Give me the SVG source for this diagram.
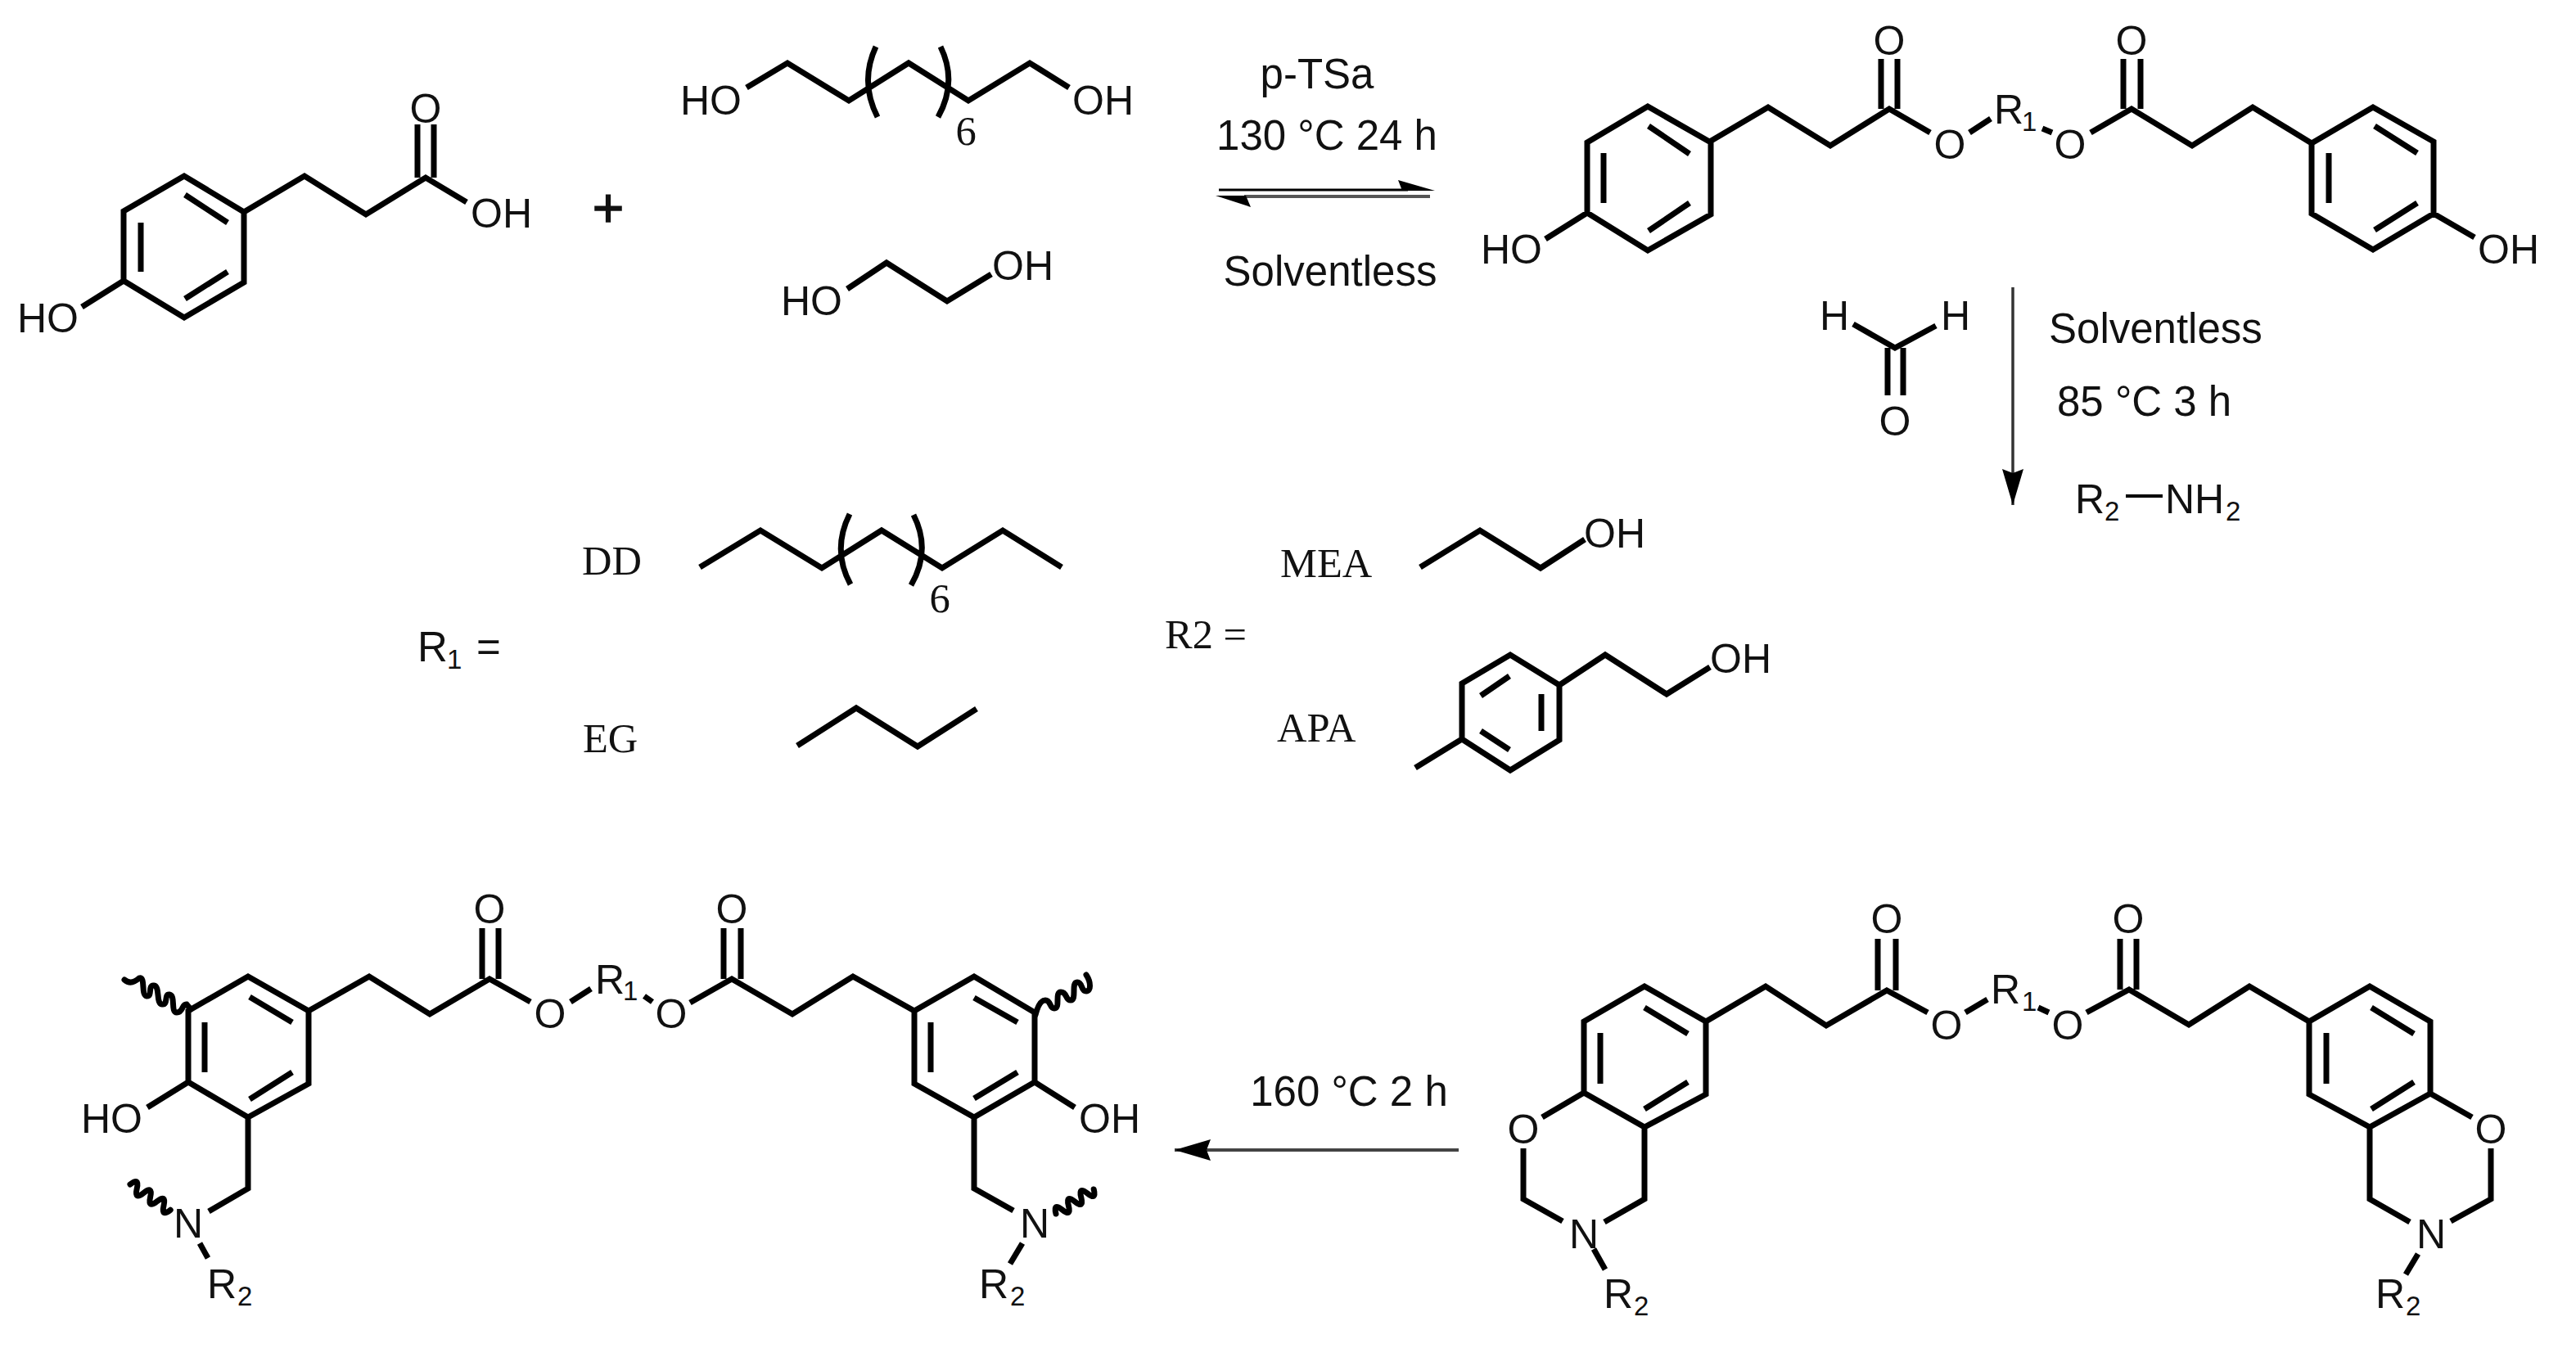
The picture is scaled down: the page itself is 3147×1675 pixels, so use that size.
<svg xmlns="http://www.w3.org/2000/svg" width="3147" height="1675" viewBox="0 0 3147 1675">
<style>
.b{fill:none;stroke:#000;stroke-width:7;stroke-linejoin:miter;stroke-linecap:butt}
.w{fill:none;stroke:#000;stroke-width:7;stroke-linecap:round}
.a{font-family:"Liberation Sans",Arial,sans-serif;font-size:50px;fill:#111}
.s{font-family:"Liberation Sans",Arial,sans-serif;font-size:33px;fill:#111}
.c{text-anchor:middle}
.l{font-family:"Liberation Sans",Arial,sans-serif;font-size:51px;fill:#111}
.t{font-family:"Liberation Serif","Times New Roman",serif;font-size:50.5px;fill:#111}
.ar{fill:none;stroke:#333;stroke-width:3.5}
</style>
<defs>
<marker id="head" markerUnits="userSpaceOnUse" markerWidth="46" markerHeight="28" refX="44" refY="14" orient="auto"><path d="M44 14L0 1L5 14L0 27Z" fill="#000"/></marker>
</defs>
<rect width="3147" height="1675" fill="#fff"/>

<g id="acid">
<path class="b" d="M225 215L151 258V343L225 388L298 345V259ZM172 272V332M226 238L278 272M226 365L278 332M298 259L372 215L447 262L520 217L570 247M510 217V152M530 217V152M151 343L100 375"/>
<text class="a c" x="520" y="150">O</text>
<text class="a" x="575" y="278">OH</text>
<text class="a" x="21" y="406">HO</text>
</g>
<text id="plus" x="743" y="277" class="l c" style="font-size:66px;stroke:#111;stroke-width:1.5">+</text>

<g id="dodecanediol">
<path class="b" d="M912 107L962 77L1037 123L1110 77L1183 123L1258 77L1306 107M1070 57Q1050 100 1072 143M1149 57Q1170 100 1146 143"/>
<text class="a" x="831" y="140">HO</text>
<text class="a" x="1310" y="140">OH</text>
<text class="t c" x="1180" y="177">6</text>
</g>

<g id="ethylene-glycol">
<path class="b" d="M1035 353L1083 321L1157 368L1211 335"/>
<text class="a" x="954" y="385">HO</text>
<text class="a" x="1212" y="342">OH</text>
</g>

<g id="connectors">
<path d="M1489 232H1720" fill="none" stroke="#000" stroke-width="3"/>
<path d="M1747 240H1520" fill="none" stroke="#555" stroke-width="4"/>
<path d="M1753 233L1708 220L1713 233Z M1485 239L1528 253L1522 239Z" fill="#000"/>
<path class="ar" d="M2459 351V617" marker-end="url(#head)"/>
<path class="ar" style="stroke:#444;stroke-width:4" d="M1782 1405H1435" marker-end="url(#head)"/>
</g>

<g id="step1-labels">
<text class="l c" x="1609" y="108">p-TSa</text>
<text class="l c" x="1621" y="183">130 °C 24 h</text>
<text class="l c" x="1625" y="349">Solventless</text>
</g>

<g id="diester">
<path class="b" d="M2013 130L1939 174V260L2013 306L2090 262V174ZM1959 187V248M2014 154L2064 188M2014 282L2064 248M1888 292L1939 260M2087 174L2160 131L2236 178L2308 133L2358 162M2298 133V72M2318 133V72M2406 162L2432 145M2495 157L2507 162M2554 162L2604 133L2678 178L2752 131L2824 175M2594 133V72M2615 133V72M2824 175L2899 131L2973 173V261L2899 305L2824 261ZM2845 187V248M2901 154L2953 187M2901 281L2953 248M2973 261L3023 290"/>
<text class="a" x="1809" y="322">HO</text>
<text class="a c" x="2308" y="67">O</text>
<text class="a c" x="2382" y="194">O</text>
<text class="a" x="2436" y="151">R</text><text class="s" x="2470" y="160">1</text>
<text class="a c" x="2529" y="194">O</text>
<text class="a c" x="2604" y="67">O</text>
<text class="a" x="3027" y="322">OH</text>
</g>

<g id="formaldehyde">
<path class="b" d="M2264 396L2315 425L2365 398M2306 425V483M2325 425V483"/>
<text class="a" x="2223" y="403">H</text>
<text class="a" x="2371" y="403">H</text>
<text class="a c" x="2315" y="532">O</text>
</g>

<g id="step2-labels">
<text class="l" x="2503" y="419">Solventless</text>
<text class="l" x="2513" y="508">85 °C 3 h</text>
</g>

<g id="amine">
<path d="M2597 606H2642" fill="none" stroke="#000" stroke-width="4"/>
<text class="a" x="2535" y="627">R</text><text class="s" x="2571" y="636">2</text>
<text class="a" x="2645" y="627">NH</text><text class="s" x="2719" y="636">2</text>
</g>

<g id="r1-legend">
<path class="b" d="M855 693L929 648L1004 694L1077 648L1151 694L1225 648L1297 693M1038 628Q1016 672 1039 714M1116 629Q1138 672 1113 715M974 911L1046 865L1121 912L1193 866"/>
<text class="l" x="510" y="808">R</text><text class="s" x="546" y="817">1</text><text class="l" x="582" y="808">=</text>
<text class="t" x="711" y="702">DD</text>
<text class="t c" x="1148" y="748">6</text>
<text class="t" x="712" y="919">EG</text>
</g>

<g id="r2-legend">
<path class="b" d="M1735 693L1808 648L1882 694L1936 659M1729 938L1786 903V835L1845 800L1905 837V904L1845 941L1786 903M1883 848V893M1809 850L1844 826M1809 893L1844 916M1905 837L1961 800L2036 848L2089 815"/>
<text class="t" x="1423" y="792">R2 =</text>
<text class="t" x="1564" y="705">MEA</text>
<text class="a" x="1935" y="669">OH</text>
<text class="t" x="1560" y="906">APA</text>
<text class="a" x="2089" y="822">OH</text>
</g>

<g id="polybenzoxazine">
<path class="b" d="M303 1193L230 1235V1322L303 1365L377 1324V1235ZM250 1249V1310M305 1218L357 1249M305 1343L357 1310M377 1235L451 1193L525 1239L598 1196L648 1224M589 1196V1134M609 1196V1134M697 1224L722 1208M787 1217L797 1224M843 1225L894 1196L968 1239L1042 1193L1117 1235M884 1196V1134M905 1196V1134M1117 1235L1190 1193L1264 1237V1322L1190 1365L1117 1324ZM1137 1249V1310M1190 1219L1243 1249M1190 1342L1243 1310M230 1322L180 1353M303 1365V1452L255 1480M244 1519L254 1537M1264 1322L1313 1353M1190 1365V1452L1238 1479M1249 1519L1234 1544"/>
<path class="w" d="M152 1197Q160 1204 170 1195C178 1192 172 1216 179 1217C187 1218 180 1203 188 1204C196 1205 190 1226 198 1227C206 1228 200 1214 207 1215C215 1216 208 1237 216 1237C224 1237 222 1226 228 1227L233 1233"/>
<path class="w" d="M159 1447q11.600 -9.200 8.200 5.200t8.200 5.200t8.200 5.200t8.200 5.200t8.200 5.200t8.200 5.200"/>
<path class="w" d="M1265 1240C1268 1228 1272 1222 1277 1222C1284 1222 1282 1232 1288 1232C1296 1232 1288 1212 1296 1212C1304 1212 1301 1222 1308 1222C1316 1222 1308 1200 1316 1200C1323 1200 1320 1211 1327 1211C1333 1211 1333 1200 1327 1191"/>
<path class="w" d="M1290 1483q-3.750 -14.300 7.700 -5t7.700 -5t7.700 -5t7.700 -5t7.700 -5t7.700 -5"/>
<text class="a" x="99" y="1384">HO</text>
<text class="a c" x="598" y="1128">O</text>
<text class="a c" x="672" y="1256">O</text>
<text class="a" x="727" y="1214">R</text><text class="s" x="761" y="1222">1</text>
<text class="a c" x="820" y="1256">O</text>
<text class="a c" x="894" y="1128">O</text>
<text class="a" x="212" y="1512">N</text>
<text class="a" x="253" y="1586">R</text><text class="s" x="290" y="1595">2</text>
<text class="a" x="1318" y="1384">OH</text>
<text class="a" x="1246" y="1512">N</text>
<text class="a" x="1196" y="1586">R</text><text class="s" x="1234" y="1595">2</text>
</g>

<text id="step3-label" class="l c" x="1648" y="1351">160 °C 2 h</text>

<g id="benzoxazine">
<path class="b" d="M2009 1205L1935 1248V1335L2009 1377L2084 1337V1248ZM1955 1262V1324M2009 1231L2062 1263M2009 1355L2062 1322M1935 1335L1884 1365M1861 1403V1465L1909 1492M1960 1493L2009 1465V1377M1947 1526L1961 1551M2084 1248L2157 1205L2231 1253L2305 1210L2355 1237M2294 1210V1147M2316 1210V1147M2401 1237L2428 1221M2490 1231L2503 1237M2549 1237L2601 1209L2674 1252L2748 1205L2821 1248M2590 1209V1147M2610 1209V1147M2821 1248L2895 1205L2969 1248V1336L2895 1377L2821 1337ZM2842 1262V1324M2897 1231L2949 1263M2897 1355L2949 1322M2969 1336L3020 1365M3043 1403V1465L2994 1492M2944 1493L2895 1465V1377M2954 1532L2939 1557"/>
<text class="a c" x="1861" y="1397">O</text>
<text class="a" x="1917" y="1525">N</text>
<text class="a" x="1959" y="1598">R</text><text class="s" x="1996" y="1607">2</text>
<text class="a c" x="2305" y="1140">O</text>
<text class="a c" x="2378" y="1270">O</text>
<text class="a" x="2432" y="1226">R</text><text class="s" x="2470" y="1235">1</text>
<text class="a c" x="2526" y="1270">O</text>
<text class="a c" x="2600" y="1140">O</text>
<text class="a c" x="3043" y="1397">O</text>
<text class="a" x="2952" y="1525">N</text>
<text class="a" x="2902" y="1598">R</text><text class="s" x="2939" y="1607">2</text>
</g>
</svg>
